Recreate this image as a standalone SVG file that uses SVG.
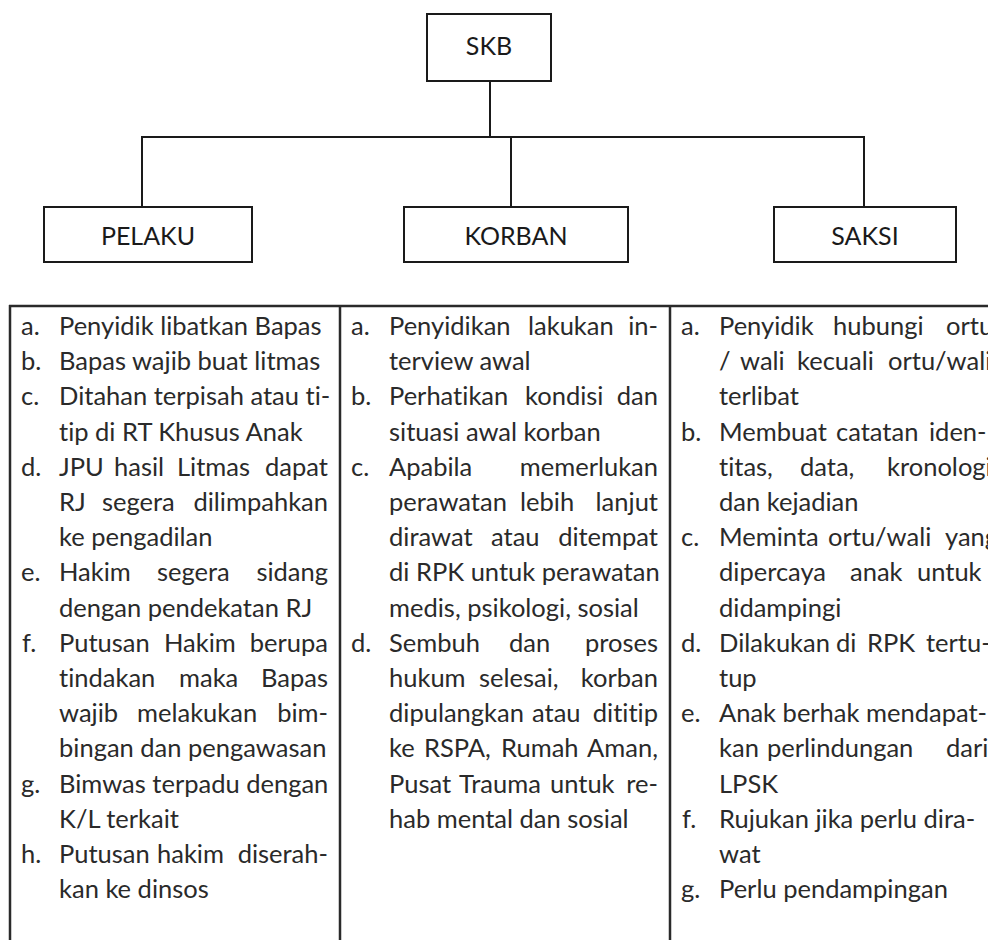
<svg xmlns="http://www.w3.org/2000/svg" width="988" height="940" viewBox="0 0 988 940">
  <style>
    .box { fill: #ffffff; stroke: #1a1a1a; stroke-width: 2; }
    .lbl { font-family: Lato, "Open Sans", sans-serif; font-size: 25px; fill: #1a1a1a; text-anchor: middle; }
    .wire { fill: none; stroke: #1a1a1a; stroke-width: 2; }
    .rule { fill: none; stroke: #2a2a2a; stroke-width: 2.5; }
    .t { font-family: Lato, "Open Sans", sans-serif; font-size: 25.5px; fill: #2a2a2a; font-variant-ligatures: none; }
    .e { text-anchor: end; }
  </style>

  <!-- hierarchy connectors -->
  <g id="connectors">
    <line class="wire" x1="490" y1="81" x2="490" y2="137"/>
    <line class="wire" x1="141" y1="137" x2="865" y2="137"/>
    <line class="wire" x1="142" y1="137" x2="142" y2="207"/>
    <line class="wire" x1="511" y1="137" x2="511" y2="207"/>
    <line class="wire" x1="864" y1="137" x2="864" y2="207"/>
  </g>

  <g id="node-skb">
    <rect class="box" x="427" y="14" width="124" height="67"/>
    <text class="lbl" x="489" y="55">SKB</text>
  </g>
  <g id="node-pelaku">
    <rect class="box" x="44" y="207" width="208" height="55"/>
    <text class="lbl" x="148" y="245">PELAKU</text>
  </g>
  <g id="node-korban">
    <rect class="box" x="404" y="207" width="224" height="55"/>
    <text class="lbl" x="516" y="245">KORBAN</text>
  </g>
  <g id="node-saksi">
    <rect class="box" x="774" y="207" width="182" height="55"/>
    <text class="lbl" x="865" y="245">SAKSI</text>
  </g>

  <!-- table frame -->
  <g id="table-frame">
    <line class="rule" x1="9" y1="306" x2="988" y2="306"/>
    <line class="rule" x1="10" y1="305" x2="10" y2="940"/>
    <line class="rule" x1="340" y1="305" x2="340" y2="940"/>
    <line class="rule" x1="670" y1="305" x2="670" y2="940"/>
  </g>

  <!-- PELAKU column (justified lines place each word) -->
  <g id="col-pelaku">
    <text class="t" x="21" y="335">a.</text><text class="t" x="59" y="335">Penyidik libatkan Bapas</text>
    <text class="t" x="21" y="370.2">b.</text><text class="t" x="59" y="370.2">Bapas wajib buat litmas</text>
    <text class="t" x="21" y="405.4">c.</text><text class="t" x="59" y="405.4">Ditahan terpisah atau ti-</text>
    <text class="t" x="59" y="440.6">tip di RT Khusus Anak</text>
    <text class="t" x="21" y="475.8">d.</text><text class="t" y="475.8"><tspan x="59">JPU</tspan><tspan x="114">hasil</tspan><tspan x="177">Litmas</tspan><tspan class="e" x="328">dapat</tspan></text>
    <text class="t" y="511"><tspan x="59">RJ</tspan><tspan x="102">segera</tspan><tspan class="e" x="328">dilimpahkan</tspan></text>
    <text class="t" x="59" y="546.2">ke pengadilan</text>
    <text class="t" x="21" y="581.4">e.</text><text class="t" y="581.4"><tspan x="59">Hakim</tspan><tspan x="157">segera</tspan><tspan class="e" x="328">sidang</tspan></text>
    <text class="t" x="59" y="616.6">dengan pendekatan RJ</text>
    <text class="t" x="22" y="651.8">f.</text><text class="t" y="651.8"><tspan x="59">Putusan</tspan><tspan x="164">Hakim</tspan><tspan class="e" x="328">berupa</tspan></text>
    <text class="t" y="687"><tspan x="59">tindakan</tspan><tspan x="179">maka</tspan><tspan class="e" x="328">Bapas</tspan></text>
    <text class="t" y="722.2"><tspan x="59">wajib</tspan><tspan x="137">melakukan</tspan><tspan class="e" x="328">bim-</tspan></text>
    <text class="t" x="59" y="757.4">bingan dan pengawasan</text>
    <text class="t" x="21" y="792.6">g.</text><text class="t" x="59" y="792.6">Bimwas terpadu dengan</text>
    <text class="t" x="59" y="827.8">K/L terkait</text>
    <text class="t" x="21" y="863">h.</text><text class="t" y="863"><tspan x="59">Putusan</tspan><tspan x="157">hakim</tspan><tspan class="e" x="328">diserah-</tspan></text>
    <text class="t" x="59" y="898.2">kan ke dinsos</text>
  </g>

  <!-- KORBAN column -->
  <g id="col-korban">
    <text class="t" x="351" y="335">a.</text><text class="t" y="335"><tspan x="389">Penyidikan</tspan><tspan x="528">lakukan</tspan><tspan class="e" x="658">in-</tspan></text>
    <text class="t" x="389" y="370.2">terview awal</text>
    <text class="t" x="351" y="405.4">b.</text><text class="t" y="405.4"><tspan x="389">Perhatikan</tspan><tspan x="525">kondisi</tspan><tspan class="e" x="658">dan</tspan></text>
    <text class="t" x="389" y="440.6">situasi awal korban</text>
    <text class="t" x="351" y="475.8">c.</text><text class="t" y="475.8"><tspan x="389">Apabila</tspan><tspan class="e" x="658">memerlukan</tspan></text>
    <text class="t" y="511"><tspan x="389">perawatan</tspan><tspan x="520">lebih</tspan><tspan class="e" x="658">lanjut</tspan></text>
    <text class="t" y="546.2"><tspan x="389">dirawat</tspan><tspan x="491">atau</tspan><tspan class="e" x="658">ditempat</tspan></text>
    <text class="t" x="389" y="581.4">di RPK untuk perawatan</text>
    <text class="t" x="389" y="616.6">medis, psikologi, sosial</text>
    <text class="t" x="351" y="651.8">d.</text><text class="t" y="651.8"><tspan x="389">Sembuh</tspan><tspan x="509">dan</tspan><tspan class="e" x="658">proses</tspan></text>
    <text class="t" y="687"><tspan x="389">hukum</tspan><tspan x="479">selesai,</tspan><tspan class="e" x="658">korban</tspan></text>
    <text class="t" y="722.2"><tspan x="389">dipulangkan</tspan><tspan x="532">atau</tspan><tspan class="e" x="658">dititip</tspan></text>
    <text class="t" y="757.4"><tspan x="389">ke</tspan><tspan x="424">RSPA,</tspan><tspan x="501">Rumah</tspan><tspan class="e" x="658">Aman,</tspan></text>
    <text class="t" y="792.6"><tspan x="389">Pusat</tspan><tspan x="459">Trauma</tspan><tspan x="550">untuk</tspan><tspan class="e" x="658">re-</tspan></text>
    <text class="t" x="389" y="827.8">hab mental dan sosial</text>
  </g>

  <!-- SAKSI column (runs past the right edge of the page) -->
  <g id="col-saksi">
    <text class="t" x="681" y="335">a.</text><text class="t" y="335"><tspan x="719">Penyidik</tspan><tspan x="833">hubungi</tspan><tspan x="946">ortu</tspan></text>
    <text class="t" y="370.2"><tspan x="719">/</tspan><tspan x="740">wali</tspan><tspan x="797">kecuali</tspan><tspan x="888">ortu/wali</tspan></text>
    <text class="t" x="719" y="405.4">terlibat</text>
    <text class="t" x="681" y="440.6">b.</text><text class="t" y="440.6"><tspan x="719">Membuat</tspan><tspan x="836">catatan</tspan><tspan x="929">iden-</tspan></text>
    <text class="t" y="475.8"><tspan x="719">titas,</tspan><tspan x="800">data,</tspan><tspan x="887">kronologi</tspan></text>
    <text class="t" x="719" y="511">dan kejadian</text>
    <text class="t" x="681" y="546.2">c.</text><text class="t" y="546.2"><tspan x="719">Meminta</tspan><tspan x="828">ortu/wali</tspan><tspan x="945">yang</tspan></text>
    <text class="t" y="581.4"><tspan x="719">dipercaya</tspan><tspan x="850">anak</tspan><tspan x="917">untuk</tspan></text>
    <text class="t" x="719" y="616.6">didampingi</text>
    <text class="t" x="681" y="651.8">d.</text><text class="t" y="651.8"><tspan x="719">Dilakukan</tspan><tspan x="836">di</tspan><tspan x="867">RPK</tspan><tspan x="926">tertu-</tspan></text>
    <text class="t" x="719" y="687">tup</text>
    <text class="t" x="681" y="722.2">e.</text><text class="t" x="719" y="722.2">Anak berhak mendapat-</text>
    <text class="t" y="757.4"><tspan x="719">kan</tspan><tspan x="767">perlindungan</tspan><tspan x="946">dari</tspan></text>
    <text class="t" x="719" y="792.6">LPSK</text>
    <text class="t" x="682" y="827.8">f.</text><text class="t" x="719" y="827.8">Rujukan jika perlu dira-</text>
    <text class="t" x="719" y="863">wat</text>
    <text class="t" x="681" y="898.2">g.</text><text class="t" x="719" y="898.2">Perlu pendampingan</text>
  </g>
</svg>
